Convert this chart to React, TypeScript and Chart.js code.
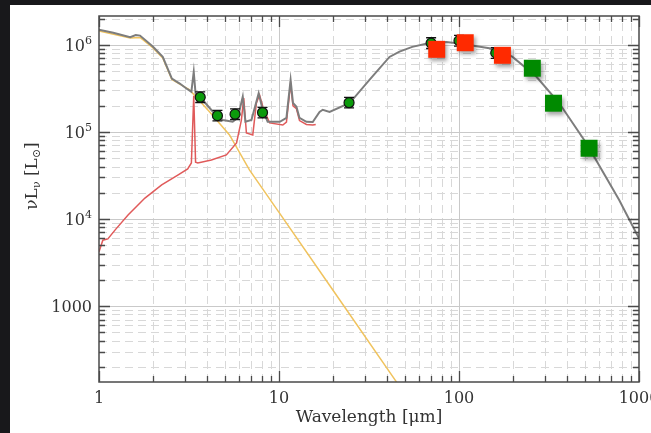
import React, { useEffect, useRef } from "react";
import { Chart, registerables } from "chart.js";

Chart.register(...registerables);

// ---------- axis ranges & tick labels ----------
const X_MIN = 1;
const X_MAX = 1000;
const Y_MIN = 134;
const Y_MAX = 2.15e6;
const xTickValues = [1, 10, 100, 1000];
const xTickLabels = ["1", "10", "100", "1000"];
const yTickValues = [1000, 1e4, 1e5, 1e6];
const yTickBases = ["1000", "10", "10", "10"];
const yTickExps = ["", "4", "5", "6"];
const xTitle = "Wavelength [\u03bcm]";

// ---------- total SED model (gray) ----------
const grayWl = [1.0, 1.2, 1.49, 1.6, 1.69, 1.99, 2.26, 2.54, 2.81, 3.1, 3.26, 3.36, 3.44, 3.63, 4.29, 4.87, 5.53, 5.9, 6.29, 6.51, 7.03, 7.71, 8.12, 8.65, 10.1, 11.0, 11.6, 11.96, 12.5, 13.0, 14.2, 15.4, 16.8, 17.5, 19.1, 24.7, 31.8, 41.1, 46.7, 55, 68.5, 85, 102.8, 147.5, 197.7, 268.7, 360, 509, 776, 1000];
const grayVal = [1.5e6, 1.38e6, 1.23e6, 1.3e6, 1.28e6, 9.6e5, 7.3e5, 4.1e5, 3.6e5, 3.1e5, 2.9e5, 4.9e5, 2.75e5, 2.55e5, 1.71e5, 1.37e5, 1.31e5, 1.45e5, 2.55e5, 1.31e5, 1.37e5, 2.79e5, 1.79e5, 1.31e5, 1.31e5, 1.45e5, 3.96e5, 2.15e5, 1.95e5, 1.45e5, 1.31e5, 1.3e5, 1.7e5, 1.8e5, 1.7e5, 2.15e5, 3.96e5, 7.28e5, 8.37e5, 9.5e5, 1.05e6, 1.08e6, 1.03e6, 9.16e5, 7.34e5, 4.33e5, 2.15e5, 7.48e4, 1.65e4, 6.0e3];

// ---------- dust / PAH component (red) ----------
const redWl = [1.0, 1.05, 1.12, 1.23, 1.45, 1.8, 2.23, 2.74, 3.11, 3.26, 3.36, 3.44, 3.54, 4.21, 5.1, 5.81, 6.18, 6.37, 6.59, 7.15, 7.49, 7.8, 8.14, 8.87, 10.5, 11.0, 11.6, 11.96, 12.5, 13.0, 14.2, 15.4, 16.0];
const redVal = [4.2e3, 5.7e3, 5.9e3, 7.5e3, 1.11e4, 1.74e4, 2.46e4, 3.2e4, 3.76e4, 4.4e4, 2.6e5, 4.5e4, 4.4e4, 4.76e4, 5.45e4, 7.48e4, 1.37e5, 2.46e5, 9.75e4, 9.25e4, 2.15e5, 2.66e5, 1.94e5, 1.27e5, 1.2e5, 1.3e5, 3.6e5, 2.0e5, 1.85e5, 1.35e5, 1.22e5, 1.2e5, 1.22e5];

// ---------- stellar component (yellow) ----------
const yelWl = [1.0, 1.49, 1.69, 1.99, 2.26, 2.54, 3.19, 4.11, 5.31, 6.85, 10, 20, 44.6, 50];
const yelVal = [1.45e6, 1.2e6, 1.22e6, 9.3e5, 7.1e5, 4.0e5, 3.04e5, 1.71e5, 9.25e4, 3.66e4, 1.19e4, 1.51e3, 137, 95];

// ---------- photometry with error bars ----------
const ptWl = [3.65, 4.55, 5.7, 8.1, 24.5, 70, 100, 160];
const ptVal = [2.51e5, 1.54e5, 1.6e5, 1.67e5, 2.17e5, 1.05e6, 1.12e6, 8.1e5];
const ptLow = [2.18e5, 1.34e5, 1.39e5, 1.45e5, 1.89e5, 9.1e5, 9.7e5, 7.0e5];
const ptHigh = [2.89e5, 1.77e5, 1.84e5, 1.92e5, 2.5e5, 1.21e6, 1.29e6, 9.3e5];

// ---------- square markers ----------
const redSqWl = [75.2, 108.3, 174.3];
const redSqVal = [8.9e5, 1.06e6, 7.6e5];
const greenSqWl = [255.5, 335, 528];
const greenSqVal = [5.4e5, 2.14e5, 6.5e4];

const pts = (xs: number[], ys: number[]) => xs.map((x, i) => ({ x, y: ys[i] }));

const FONT = '"DejaVu Serif", "Liberation Serif", serif';

const framePlugin = {
  id: "frame",
  beforeDraw(chart: any) {
    const { ctx, width, height } = chart;
    ctx.save();
    ctx.fillStyle = "#18181b";
    ctx.fillRect(0, 0, width, height);
    ctx.fillStyle = "#ffffff";
    ctx.fillRect(10, 5, width - 10, height - 5);
    ctx.restore();
  },
  beforeDatasetsDraw(chart: any) {
    const { ctx, chartArea: a, scales } = chart;
    const xs = scales.x;
    const ys = scales.y;
    ctx.save();
    ctx.lineWidth = 1;
    for (let d = 0; d <= 3; d++) {
      for (let m = 1; m <= 9; m++) {
        const v = m * Math.pow(10, d);
        if (v <= X_MIN || v >= X_MAX) continue;
        const px = Math.round(xs.getPixelForValue(v)) + 0.5;
        ctx.beginPath();
        if (m === 1) {
          ctx.setLineDash([]);
          ctx.strokeStyle = "#c9c9c9";
        } else {
          ctx.setLineDash([8, 5]);
          ctx.strokeStyle = "#d8d8d8";
        }
        ctx.moveTo(px, a.bottom);
        ctx.lineTo(px, a.top);
        ctx.stroke();
      }
    }
    for (let d = 2; d <= 6; d++) {
      for (let m = 1; m <= 9; m++) {
        const v = m * Math.pow(10, d);
        if (v <= Y_MIN || v >= Y_MAX) continue;
        const py = Math.round(ys.getPixelForValue(v)) + 0.5;
        ctx.beginPath();
        if (m === 1) {
          ctx.setLineDash([]);
          ctx.strokeStyle = "#c9c9c9";
        } else {
          ctx.setLineDash([8, 5]);
          ctx.strokeStyle = "#d8d8d8";
        }
        ctx.moveTo(a.left, py);
        ctx.lineTo(a.right, py);
        ctx.stroke();
      }
    }
    ctx.restore();
  },
  beforeDatasetDraw(chart: any, args: any) {
    const ds = chart.data.datasets[args.index];
    const { ctx, scales } = chart;
    if (ds.label === "redSquares" || ds.label === "greenSquares") {
      ctx.save();
      ctx.shadowColor = "rgba(0,0,0,0.35)";
      ctx.shadowBlur = 4;
      ctx.shadowOffsetX = 2;
      ctx.shadowOffsetY = 3;
    }
    if (ds.label === "photometry") {
      ctx.save();
      ctx.strokeStyle = "#111";
      ctx.lineWidth = 1.3;
      for (let i = 0; i < ptWl.length; i++) {
        const x = scales.x.getPixelForValue(ptWl[i]);
        const y1 = scales.y.getPixelForValue(ptLow[i]);
        const y2 = scales.y.getPixelForValue(ptHigh[i]);
        ctx.beginPath();
        ctx.moveTo(x, y1);
        ctx.lineTo(x, y2);
        ctx.moveTo(x - 5, y1);
        ctx.lineTo(x + 5, y1);
        ctx.moveTo(x - 5, y2);
        ctx.lineTo(x + 5, y2);
        ctx.stroke();
      }
      ctx.restore();
    }
  },
  afterDatasetDraw(chart: any, args: any) {
    const ds = chart.data.datasets[args.index];
    if (ds.label === "redSquares" || ds.label === "greenSquares") {
      chart.ctx.restore();
    }
  },
  afterDatasetsDraw(chart: any) {
    const { ctx, chartArea: a, scales } = chart;
    const xs = scales.x;
    const ys = scales.y;
    ctx.save();
    ctx.setLineDash([]);
    ctx.strokeStyle = "#4a4a4a";
    ctx.lineWidth = 1.5;
    ctx.strokeRect(a.left, a.top, a.right - a.left, a.bottom - a.top);
    ctx.lineWidth = 1.3;
    ctx.beginPath();
    for (let d = 0; d <= 3; d++) {
      for (let m = 1; m <= 9; m++) {
        const v = m * Math.pow(10, d);
        if (v < X_MIN || v > X_MAX) continue;
        const px = Math.round(xs.getPixelForValue(v)) + 0.5;
        const len = m === 1 ? 11 : 6;
        ctx.moveTo(px, a.bottom);
        ctx.lineTo(px, a.bottom - len);
        ctx.moveTo(px, a.top);
        ctx.lineTo(px, a.top + len);
      }
    }
    for (let d = 2; d <= 6; d++) {
      for (let m = 1; m <= 9; m++) {
        const v = m * Math.pow(10, d);
        if (v < Y_MIN || v > Y_MAX) continue;
        const py = Math.round(ys.getPixelForValue(v)) + 0.5;
        const len = m === 1 ? 11 : 6;
        ctx.moveTo(a.left, py);
        ctx.lineTo(a.left + len, py);
        ctx.moveTo(a.right, py);
        ctx.lineTo(a.right - len, py);
      }
    }
    ctx.stroke();

    ctx.fillStyle = "#333";
    ctx.font = "16px " + FONT;
    ctx.textAlign = "center";
    ctx.textBaseline = "alphabetic";
    xTickValues.forEach((v, i) => {
      ctx.fillText(xTickLabels[i], xs.getPixelForValue(v), 403);
    });
    ctx.font = "17px " + FONT;
    ctx.fillText(xTitle, (a.left + a.right) / 2, 422);

    yTickValues.forEach((v, i) => {
      const py = ys.getPixelForValue(v);
      const right = a.left - 7;
      ctx.textAlign = "right";
      let expW = 0;
      if (yTickExps[i]) {
        ctx.font = "11px " + FONT;
        expW = ctx.measureText(yTickExps[i]).width;
        ctx.fillText(yTickExps[i], right, py - 1);
      }
      ctx.font = "16px " + FONT;
      ctx.fillText(yTickBases[i], right - expW, py + 6);
    });

    const parts = [
      { t: "\u03bdL", sub: false },
      { t: "\u03bd", sub: true },
      { t: " [L", sub: false },
      { t: "\u2299", sub: true },
      { t: "]", sub: false },
    ];
    const mainF = "17px " + FONT;
    const subF = "11px " + FONT;
    let total = 0;
    const widths = parts.map((p) => {
      ctx.font = p.sub ? subF : mainF;
      const w = ctx.measureText(p.t).width;
      total += w;
      return w;
    });
    ctx.translate(31, 176);
    ctx.rotate(-Math.PI / 2);
    ctx.textAlign = "left";
    let cx = -total / 2;
    parts.forEach((p, i) => {
      ctx.font = p.sub ? subF : mainF;
      ctx.fillText(p.t, cx, p.sub ? 9 : 6);
      cx += widths[i];
    });
    ctx.restore();
  },
};

export default function App() {
  const ref = useRef<HTMLCanvasElement>(null);
  useEffect(() => {
    document.body.style.margin = "0";
    const canvas = ref.current;
    if (!canvas) return;
    const chart = new Chart(canvas, {
      type: "scatter",
      data: {
        datasets: [
          {
            label: "redSquares",
            data: pts(redSqWl, redSqVal),
            pointStyle: "rect",
            pointRadius: 12,
            backgroundColor: "#ff2a00",
            borderColor: "#ff2a00",
            borderWidth: 0,
            showLine: false,
            order: 0,
          },
          {
            label: "greenSquares",
            data: pts(greenSqWl, greenSqVal),
            pointStyle: "rect",
            pointRadius: 12,
            backgroundColor: "#008a00",
            borderColor: "#008a00",
            borderWidth: 0,
            showLine: false,
            order: 0,
          },
          {
            label: "photometry",
            data: pts(ptWl, ptVal),
            pointStyle: "circle",
            pointRadius: 5,
            backgroundColor: "#0c9a0c",
            borderColor: "#111",
            borderWidth: 1.2,
            showLine: false,
            order: 1,
          },
          {
            label: "total",
            data: pts(grayWl, grayVal),
            showLine: true,
            borderColor: "#7d7d7d",
            borderWidth: 2,
            pointRadius: 0,
            tension: 0,
            order: 2,
          },
          {
            label: "dust",
            data: pts(redWl, redVal),
            showLine: true,
            borderColor: "#e05a5a",
            borderWidth: 1.5,
            pointRadius: 0,
            tension: 0,
            order: 3,
          },
          {
            label: "stellar",
            data: pts(yelWl, yelVal),
            showLine: true,
            borderColor: "#f0c35e",
            borderWidth: 1.5,
            pointRadius: 0,
            tension: 0,
            order: 4,
          },
        ],
      },
      options: {
        animation: false,
        responsive: false,
        devicePixelRatio: 1,
        layout: { padding: { left: 99, top: 16, right: 10, bottom: 51 } },
        plugins: { legend: { display: false }, tooltip: { enabled: false } },
        scales: {
          x: { type: "logarithmic", min: X_MIN, max: X_MAX, display: false },
          y: { type: "logarithmic", min: Y_MIN, max: Y_MAX, display: false },
        },
      },
      plugins: [framePlugin],
    } as any);
    return () => chart.destroy();
  }, []);
  return <canvas ref={ref} width={651} height={433} style={{ display: "block" }} />;
}
